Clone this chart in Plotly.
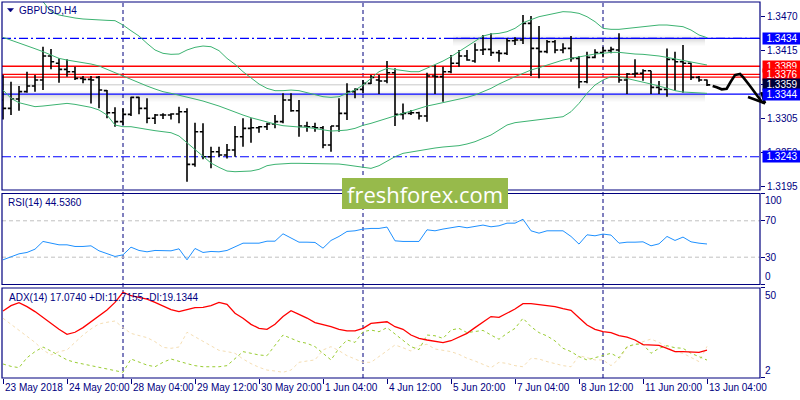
import plotly.graph_objects as go

# ---------------- data ----------------
symbol_title = "GBPUSD,H4"
rsi_title = "RSI(14) 44.5360"
adx_title = "ADX(14) 17.0740 +DI:11.7155 -DI:19.1344"

time_labels = ["23 May 2018", "24 May 20:00", "28 May 04:00", "29 May 12:00",
               "30 May 20:00", "1 Jun 04:00", "4 Jun 12:00", "5 Jun 20:00",
               "7 Jun 04:00", "8 Jun 12:00", "11 Jun 20:00", "13 Jun 04:00"]
label_bars = [0, 8, 16, 24, 32, 40, 48, 56, 64, 72, 80, 88]
week_start_bars = [15, 45, 75]

open_ = [1.33345, 1.33211, 1.33361, 1.33480, 1.33571, 1.33668, 1.34055, 1.33937, 1.33840, 1.33802,
         1.33695, 1.33678, 1.33711, 1.33496, 1.33141, 1.32996, 1.33114, 1.33388, 1.33211, 1.33050,
         1.33103, 1.33103, 1.33119, 1.33157, 1.32308, 1.32834, 1.32431, 1.32512, 1.32458, 1.32539,
         1.32754, 1.32888, 1.32899, 1.32915, 1.32958, 1.32996, 1.33345, 1.33173, 1.32926, 1.32915,
         1.32899, 1.32619, 1.32926, 1.33130, 1.33480, 1.33517, 1.33614, 1.33668, 1.33652, 1.33786,
         1.33114, 1.33130, 1.33141, 1.33087, 1.33732, 1.33722, 1.33802, 1.33937, 1.34055, 1.33974,
         1.34152, 1.34162, 1.34109, 1.34098, 1.34302, 1.34313, 1.34582, 1.34178, 1.34125, 1.34286,
         1.34152, 1.34178, 1.34017, 1.33641, 1.34033, 1.34109, 1.34141, 1.34152, 1.33668, 1.33765,
         1.33775, 1.33818, 1.33549, 1.33517, 1.34001, 1.33963, 1.33937, 1.33711, 1.33668]
high = [1.33748, 1.33641, 1.33571, 1.33802, 1.33748, 1.34205, 1.34168, 1.34017, 1.34001, 1.33883,
        1.33732, 1.33732, 1.33732, 1.33506, 1.33227, 1.33211, 1.33399, 1.33399, 1.33372, 1.33119,
        1.33130, 1.33130, 1.33238, 1.33211, 1.32980, 1.32969, 1.32593, 1.32593, 1.32636, 1.32926,
        1.33050, 1.33050, 1.32926, 1.32980, 1.33103, 1.33453, 1.33453, 1.33345, 1.32996, 1.32980,
        1.32926, 1.32926, 1.33372, 1.33614, 1.33533, 1.33668, 1.33748, 1.33748, 1.33974, 1.33856,
        1.33291, 1.33184, 1.33157, 1.33786, 1.33910, 1.33883, 1.34071, 1.34152, 1.34152, 1.34259,
        1.34394, 1.34420, 1.34152, 1.34340, 1.34356, 1.34716, 1.34700, 1.34539, 1.34313, 1.34313,
        1.34259, 1.34377, 1.34055, 1.34125, 1.34162, 1.34205, 1.34205, 1.34420, 1.33780, 1.34001,
        1.33840, 1.33818, 1.33652, 1.34178, 1.34125, 1.34232, 1.33947, 1.33732, 1.33678]
low = [1.33033, 1.33103, 1.33173, 1.33463, 1.33480, 1.33506, 1.33840, 1.33625, 1.33722, 1.33668,
       1.33614, 1.33291, 1.33211, 1.33050, 1.32915, 1.32942, 1.33087, 1.33114, 1.32969, 1.32958,
       1.33039, 1.33033, 1.32969, 1.32028, 1.32270, 1.32388, 1.32243, 1.32431, 1.32404, 1.32431,
       1.32593, 1.32657, 1.32818, 1.32861, 1.32888, 1.32969, 1.33157, 1.32754, 1.32834, 1.32834,
       1.32566, 1.32512, 1.32834, 1.33023, 1.33372, 1.33453, 1.33603, 1.33442, 1.33614, 1.32926,
       1.33033, 1.33103, 1.33033, 1.32996, 1.33442, 1.33318, 1.33775, 1.33883, 1.33980, 1.33947,
       1.34071, 1.34055, 1.33963, 1.34071, 1.34232, 1.34248, 1.33732, 1.33695, 1.34098, 1.34098,
       1.34098, 1.33963, 1.33533, 1.33614, 1.34017, 1.34033, 1.34098, 1.33625, 1.33442, 1.33711,
       1.33657, 1.33442, 1.33442, 1.33399, 1.33496, 1.33463, 1.33668, 1.33641, 1.33571]
close = [1.33211, 1.33361, 1.33480, 1.33571, 1.33668, 1.34055, 1.33963, 1.33840, 1.33802, 1.33695,
         1.33678, 1.33668, 1.33506, 1.33141, 1.32996, 1.33114, 1.33388, 1.33211, 1.33050, 1.33103,
         1.33103, 1.33119, 1.33157, 1.32308, 1.32834, 1.32431, 1.32512, 1.32458, 1.32539, 1.32754,
         1.32888, 1.32899, 1.32915, 1.32958, 1.32996, 1.33345, 1.33173, 1.32926, 1.32915, 1.32899,
         1.32619, 1.32926, 1.33130, 1.33480, 1.33517, 1.33614, 1.33711, 1.33652, 1.33786, 1.33114,
         1.33130, 1.33141, 1.33087, 1.33732, 1.33722, 1.33802, 1.33937, 1.34055, 1.33990, 1.34152,
         1.34162, 1.34109, 1.34098, 1.34302, 1.34313, 1.34582, 1.34178, 1.34125, 1.34286, 1.34152,
         1.34178, 1.34017, 1.33641, 1.34033, 1.34109, 1.34141, 1.34162, 1.33668, 1.33765, 1.33775,
         1.33818, 1.33549, 1.33517, 1.34001, 1.33963, 1.33937, 1.33711, 1.33668, 1.33590]

bb_upper = [1.35334, 1.35281, 1.35227, 1.35146, 1.35066, 1.34931, 1.34770, 1.34716, 1.34689, 1.34668,
            1.34652, 1.34641, 1.34635, 1.34630, 1.34625, 1.34555, 1.34463, 1.34377, 1.34259, 1.34152,
            1.34098, 1.34082, 1.34087, 1.34152, 1.34195, 1.34216, 1.34205, 1.34141, 1.34017, 1.33920,
            1.33802, 1.33695, 1.33603, 1.33533, 1.33496, 1.33496, 1.33506, 1.33496, 1.33463, 1.33426,
            1.33399, 1.33388, 1.33399, 1.33453, 1.33506, 1.33587, 1.33695, 1.33802, 1.33856, 1.33840,
            1.33818, 1.33802, 1.33802, 1.33856, 1.33910, 1.33974, 1.34044, 1.34125, 1.34205, 1.34286,
            1.34377, 1.34410, 1.34420, 1.34447, 1.34501, 1.34592, 1.34646, 1.34689, 1.34716, 1.34743,
            1.34770, 1.34764, 1.34743, 1.34689, 1.34609, 1.34501, 1.34485, 1.34485, 1.34501, 1.34517,
            1.34528, 1.34544, 1.34555, 1.34555, 1.34544, 1.34528, 1.34474, 1.34394, 1.34351]
bb_middle = [1.34356, 1.34313, 1.34270, 1.34216, 1.34173, 1.34125, 1.34071, 1.34017, 1.33990, 1.33963,
             1.33947, 1.33926, 1.33894, 1.33840, 1.33786, 1.33722, 1.33668, 1.33614, 1.33571, 1.33523,
             1.33480, 1.33453, 1.33426, 1.33399, 1.33361, 1.33329, 1.33291, 1.33248, 1.33200, 1.33146,
             1.33103, 1.33060, 1.33023, 1.32990, 1.32958, 1.32931, 1.32915, 1.32910, 1.32904, 1.32883,
             1.32861, 1.32845, 1.32851, 1.32861, 1.32888, 1.32937, 1.32969, 1.33012, 1.33050, 1.33093,
             1.33130, 1.33168, 1.33211, 1.33248, 1.33275, 1.33302, 1.33334, 1.33356, 1.33388, 1.33426,
             1.33480, 1.33533, 1.33603, 1.33668, 1.33722, 1.33775, 1.33829, 1.33867, 1.33910, 1.33947,
             1.33990, 1.34017, 1.34044, 1.34071, 1.34087, 1.34098, 1.34114, 1.34114, 1.34098, 1.34087,
             1.34082, 1.34071, 1.34055, 1.34033, 1.34006, 1.33980, 1.33953, 1.33926, 1.33910]
bb_lower = [1.33506, 1.33372, 1.33302, 1.33265, 1.33238, 1.33248, 1.33265, 1.33281, 1.33291, 1.33275,
            1.33254, 1.33227, 1.33184, 1.33103, 1.32942, 1.32915, 1.32915, 1.32899, 1.32872, 1.32851,
            1.32834, 1.32818, 1.32765, 1.32657, 1.32539, 1.32431, 1.32329, 1.32259, 1.32200, 1.32189,
            1.32189, 1.32200, 1.32227, 1.32286, 1.32308, 1.32318, 1.32324, 1.32324, 1.32324, 1.32324,
            1.32318, 1.32313, 1.32313, 1.32297, 1.32281, 1.32254, 1.32243, 1.32286, 1.32361, 1.32431,
            1.32485, 1.32507, 1.32539, 1.32555, 1.32571, 1.32587, 1.32598, 1.32609, 1.32636, 1.32673,
            1.32727, 1.32781, 1.32861, 1.32942, 1.32980, 1.32996, 1.33012, 1.33033, 1.33050, 1.33066,
            1.33076, 1.33157, 1.33291, 1.33453, 1.33587, 1.33668, 1.33722, 1.33722, 1.33695, 1.33668,
            1.33636, 1.33603, 1.33571, 1.33533, 1.33496, 1.33474, 1.33463, 1.33453, 1.33453]

rsi = [27.1, 30.8, 33.7, 35.2, 38.8, 47.3, 45.4, 43.6, 43.6, 41.8,
       41.8, 42.5, 37.0, 33.7, 30.8, 32.6, 41.0, 37.4, 35.9, 37.4,
       37.0, 37.0, 39.2, 27.1, 39.6, 35.2, 36.3, 35.9, 37.4, 41.8,
       45.4, 45.4, 45.4, 47.6, 47.6, 55.7, 51.0, 46.5, 46.5, 46.2,
       39.9, 48.4, 52.8, 58.3, 59.0, 60.9, 61.6, 61.6, 63.1, 48.0,
       47.3, 46.9, 47.3, 60.1, 59.0, 60.9, 62.7, 63.8, 62.3, 63.8,
       65.3, 63.4, 64.5, 67.4, 67.4, 71.7, 59.0, 56.4, 59.0, 59.0,
       59.0, 52.8, 44.4, 54.6, 53.5, 55.4, 54.3, 45.4, 46.5, 46.5,
       46.9, 42.5, 44.7, 52.8, 48.4, 52.1, 46.9, 45.4, 44.5]

adx = [38.3, 41.2, 42.8, 40.7, 38.0, 34.7, 31.5, 28.4, 25.7, 26.8,
       29.3, 32.5, 35.4, 38.9, 43.0, 48.5, 46.6, 45.6, 44.7, 43.0,
       41.0, 39.1, 38.0, 38.9, 40.1, 40.3, 41.2, 43.0, 41.9, 37.1,
       34.4, 31.1, 28.9, 28.4, 31.1, 35.3, 38.5, 36.5, 34.5, 32.0,
       31.1, 29.8, 28.4, 27.5, 27.5, 28.9, 31.6, 32.2, 32.5, 29.8,
       28.4, 25.3, 23.5, 22.6, 21.7, 21.2, 22.2, 24.4, 26.2, 29.3,
       32.2, 35.3, 34.9, 37.1, 39.4, 42.3, 42.3, 41.8, 41.4, 40.7,
       39.6, 38.7, 34.7, 30.7, 28.4, 27.1, 26.6, 25.0, 24.1, 22.6,
       20.1, 19.9, 19.7, 18.1, 16.3, 16.3, 16.1, 15.9, 17.07]
plus_di = [9.6, 8.3, 7.6, 13.0, 16.3, 18.8, 16.6, 14.1, 11.8, 10.5,
           9.6, 8.7, 7.6, 6.5, 5.8, 5.1, 12.3, 10.5, 9.0, 8.1,
           10.5, 12.3, 10.9, 9.8, 8.7, 8.1, 8.1, 8.1, 8.7, 12.3,
           16.3, 15.4, 14.5, 14.1, 19.9, 25.3, 23.5, 21.7, 20.8, 19.0,
           15.4, 11.8, 18.1, 22.6, 21.3, 27.1, 28.0, 27.1, 29.3, 25.7,
           22.6, 19.0, 17.4, 25.3, 24.9, 23.5, 28.0, 28.9, 26.6, 27.1,
           27.8, 25.3, 23.0, 26.2, 28.9, 34.4, 29.8, 26.6, 24.8, 22.1,
           18.1, 16.3, 13.6, 11.8, 13.0, 14.5, 15.4, 13.0, 19.0, 20.3,
           20.3, 15.4, 18.1, 19.5, 18.4, 18.1, 15.4, 13.6, 11.72]
minus_di = [34.4, 31.1, 27.7, 24.4, 21.3, 17.2, 14.5, 16.3, 17.2, 21.3,
            25.3, 28.6, 31.3, 32.2, 32.9, 29.3, 26.2, 25.0, 23.9, 21.7,
            18.6, 18.1, 18.8, 26.8, 24.4, 22.1, 19.3, 17.0, 16.3, 15.4,
            12.3, 9.8, 7.8, 6.3, 5.8, 5.1, 6.3, 10.5, 11.2, 11.8,
            17.2, 19.0, 16.8, 14.1, 12.3, 10.5, 10.5, 13.6, 16.6, 19.9,
            18.4, 16.6, 19.5, 20.3, 17.7, 17.0, 16.3, 14.8, 12.7, 11.2,
            9.4, 7.6, 10.5, 9.9, 8.7, 8.1, 12.7, 12.3, 10.9, 9.6,
            8.7, 8.1, 14.1, 13.0, 11.8, 11.8, 8.7, 12.3, 18.4, 20.3,
            21.7, 23.1, 21.3, 19.0, 16.3, 15.4, 13.0, 10.9, 19.13]

price_ticks = [1.3470, 1.3415, 1.3360, 1.3305, 1.3250, 1.3195]
resistance_levels = [1.3389, 1.3376, 1.33715]
support_level = 1.3344
dashdot_levels = [1.3434, 1.3243]
bid_price = 1.3359
trend_start_bar = 56.25
shadow_end_bar = 87.75
level_tags = [("1.3434", 1.3434, "#0000FF"), ("1.3389", 1.3389, "#FF0000"),
              ("1.3376", 1.3376, "#FF0000"), ("1.3359", 1.3359, "#00003A"),
              ("1.3344", 1.3344, "#0000FF"), ("1.3243", 1.3243, "#0000FF")]
rsi_levels = [70, 30]
rsi_scale_labels = ["100", "70", "30", "0"]
adx_scale_labels = ["50", "2"]
# hand-drawn forecast arrow (bar index, price)
forecast_path = [(88.71, 1.33571), (89.21, 1.33550), (89.84, 1.33518), (90.46, 1.33527),
                 (90.96, 1.33640), (91.5, 1.33748), (92.13, 1.33765), (92.54, 1.33711),
                 (93.38, 1.33571), (94.21, 1.33426), (94.84, 1.33318), (95.25, 1.33292)]
forecast_barbs = [[(93.13, 1.33394), (95.25, 1.33292)], [(94.8, 1.33474), (95.25, 1.33292)]]
watermark = "freshforex.com"

# ---------------- layout constants ----------------
FONT = "Liberation Sans Narrow, Arial Narrow, Liberation Sans, Arial, sans-serif"
FS = 10
NAVY = "#00007F"
W, H = 800, 400
ML, MR, MT, MB = 2, 40, 2, 22
PW, PH = W - ML - MR, H - MT - MB
X_RANGE = [-0.125, 94.625]
Y_MAIN = [1.31894, 1.34926]
D_MAIN = [0.5, 1.0]
D_RSI = [0.2487, 0.4907]
D_ADX = [0.0, 0.2394]
ADX_RANGE = [2, 50.8]

bars = list(range(len(close)))


def pxx(px):
    return (px - ML) / PW


def pxy(py):
    return (MT + PH - py) / PH


def to_paper(i, p):
    xp = (i - X_RANGE[0]) / (X_RANGE[1] - X_RANGE[0])
    yp = D_MAIN[0] + (p - Y_MAIN[0]) / (Y_MAIN[1] - Y_MAIN[0]) * (D_MAIN[1] - D_MAIN[0])
    return xp, yp


def path_of(points):
    pts = [to_paper(i, p) for i, p in points]
    return "M " + " L ".join(f"{x:.5f},{y:.5f}" for x, y in pts)


fig = go.Figure()

fig.add_trace(go.Ohlc(x=bars, open=open_, high=high, low=low, close=close,
                      increasing=dict(line=dict(color="black", width=1.6)),
                      decreasing=dict(line=dict(color="black", width=1.6)),
                      tickwidth=0.4, xaxis="x", yaxis="y", hoverinfo="skip"))
for band in (bb_upper, bb_middle, bb_lower):
    fig.add_trace(go.Scatter(x=bars, y=band, mode="lines", xaxis="x", yaxis="y",
                             line=dict(color="#3CB371", width=1), hoverinfo="skip"))

fig.add_trace(go.Scatter(x=bars, y=rsi, mode="lines", xaxis="x", yaxis="y2",
                         line=dict(color="#1E90FF", width=1), hoverinfo="skip"))

fig.add_trace(go.Scatter(x=bars, y=minus_di, mode="lines", xaxis="x", yaxis="y3",
                         line=dict(color="#F5DEB3", width=1, dash="3px,3px"), hoverinfo="skip"))
fig.add_trace(go.Scatter(x=bars, y=plus_di, mode="lines", xaxis="x", yaxis="y3",
                         line=dict(color="#9ACD32", width=1, dash="3px,3px"), hoverinfo="skip"))
fig.add_trace(go.Scatter(x=bars, y=adx, mode="lines", xaxis="x", yaxis="y3",
                         line=dict(color="#FF0000", width=1.3), hoverinfo="skip"))

shapes = []
px_price = (Y_MAIN[1] - Y_MAIN[0]) / (PH * (D_MAIN[1] - D_MAIN[0]))


def shadow(level, x0, x1):
    below = [0.14, 0.11, 0.085, 0.065, 0.045, 0.03, 0.015]
    above = [0.07, 0.035, 0.015]
    for k, a in enumerate(below):
        shapes.append(dict(type="rect", xref="x", yref="y", x0=x0, x1=x1,
                           y0=level - (k + 1.5) * px_price, y1=level - (k + 0.5) * px_price,
                           fillcolor=f"rgba(0,0,0,{a})", line=dict(width=0), layer="below"))
    for k, a in enumerate(above):
        shapes.append(dict(type="rect", xref="x", yref="y", x0=x0, x1=x1,
                           y0=level + (k + 0.5) * px_price, y1=level + (k + 1.5) * px_price,
                           fillcolor=f"rgba(0,0,0,{a})", line=dict(width=0), layer="below"))


shadow(support_level, X_RANGE[0], shadow_end_bar)
shadow(dashdot_levels[0], trend_start_bar, shadow_end_bar)


def hline(level, color, width=1, dash="solid", x0=None, x1=None):
    shapes.append(dict(type="line", xref="x", yref="y",
                       x0=X_RANGE[0] if x0 is None else x0, x1=X_RANGE[1] if x1 is None else x1,
                       y0=level, y1=level, line=dict(color=color, width=width, dash=dash),
                       layer="below"))


hline(bid_price, "#C8C8C8", 1)
for lv in dashdot_levels:
    hline(lv, "#0000FF", 1.2, "9px,3px,2px,3px")
hline(dashdot_levels[0], "#0000FF", 1.4, x0=trend_start_bar)
hline(support_level, "#0000FF", 1.4)
for lv in resistance_levels:
    hline(lv, "#FF0000", 1.3)

for lv in rsi_levels:
    shapes.append(dict(type="line", xref="x", yref="y2", x0=X_RANGE[0], x1=X_RANGE[1],
                       y0=lv, y1=lv, line=dict(color="#C0C0C0", width=1, dash="4px,3px"),
                       layer="below"))

for b in week_start_bars:
    shapes.append(dict(type="line", xref="x", yref="paper", x0=b, x1=b, y0=0, y1=1,
                       line=dict(color=NAVY, width=1, dash="4px,3px"), layer="below"))

for d in (D_MAIN, D_RSI, D_ADX):
    shapes.append(dict(type="rect", xref="paper", yref="paper", x0=0, x1=1, y0=d[0], y1=d[1],
                       line=dict(color=NAVY, width=1.2), fillcolor="rgba(0,0,0,0)", layer="above"))

# forecast arrow
shapes.append(dict(type="path", xref="paper", yref="paper", path=path_of(forecast_path),
                   line=dict(color="black", width=2.6), layer="above"))
for barb in forecast_barbs:
    shapes.append(dict(type="path", xref="paper", yref="paper", path=path_of(barb),
                       line=dict(color="black", width=2.6), layer="above"))

# watermark box
shapes.append(dict(type="rect", xref="paper", yref="paper", x0=pxx(342), x1=pxx(508),
                   y0=pxy(209), y1=pxy(178), fillcolor="#97BA4B", line=dict(width=0),
                   layer="above"))

# title triangle
shapes.append(dict(type="path", xref="paper", yref="paper",
                   path=f"M {pxx(7.5)},{pxy(8.5)} L {pxx(13.5)},{pxy(8.5)} L {pxx(10.5)},{pxy(12)} Z",
                   fillcolor=NAVY, line=dict(color=NAVY, width=0.5), layer="above"))

ann = []
ann.append(dict(xref="paper", yref="paper", x=pxx(17), y=pxy(10), text=symbol_title,
                xanchor="left", yanchor="middle", showarrow=False,
                font=dict(family=FONT, size=FS, color=NAVY)))
ann.append(dict(xref="paper", yref="paper", x=pxx(6), y=pxy(202), text=rsi_title,
                xanchor="left", yanchor="middle", showarrow=False,
                font=dict(family=FONT, size=FS, color=NAVY)))
ann.append(dict(xref="paper", yref="paper", x=pxx(7), y=pxy(297), text=adx_title,
                xanchor="left", yanchor="middle", showarrow=False,
                font=dict(family=FONT, size=FS, color=NAVY)))

# price tags
for txt, lv, col in level_tags:
    ann.append(dict(xref="paper", yref="y", x=1, y=lv, xanchor="left", yanchor="middle",
                    xshift=2, text=txt, showarrow=False, bgcolor=col, width=38, height=11,
                    borderpad=0, align="center",
                    font=dict(family=FONT, size=FS, color="white")))

# RSI scale labels
rsi_pos = [(100, "top"), (70, "middle"), (30, "middle"), (0, "bottom")]
for lab, (v, anc) in zip(rsi_scale_labels, rsi_pos):
    ann.append(dict(xref="paper", yref="y2", x=1, y=v, xanchor="left", yanchor=anc, xshift=3,
                    text=lab, showarrow=False, font=dict(family=FONT, size=FS, color=NAVY)))
# ADX scale labels
adx_pos = [(ADX_RANGE[1], "top"), (ADX_RANGE[0], "bottom")]
for lab, (v, anc) in zip(adx_scale_labels, adx_pos):
    ann.append(dict(xref="paper", yref="y3", x=1, y=v, xanchor="left", yanchor=anc, xshift=3,
                    text=lab, showarrow=False, font=dict(family=FONT, size=FS, color=NAVY)))

# time labels (left aligned after tick)
for b, lab in zip(label_bars, time_labels):
    ann.append(dict(xref="x", yref="paper", x=b, y=0, xanchor="left", yanchor="top",
                    xshift=0, yshift=-2, text=lab, showarrow=False,
                    font=dict(family=FONT, size=FS, color=NAVY)))

# watermark text
ann.append(dict(xref="paper", yref="paper", x=pxx(425), y=pxy(193.5), text=watermark,
                xanchor="center", yanchor="middle", showarrow=False,
                font=dict(family="Open Sans, Noto Sans, sans-serif", size=22, color="white")))

fig.update_layout(
    width=W, height=H,
    margin=dict(l=ML, r=MR, t=MT, b=MB),
    paper_bgcolor="white", plot_bgcolor="white",
    showlegend=False,
    shapes=shapes, annotations=ann,
    xaxis=dict(domain=[0, 1], range=X_RANGE, anchor="y3", tickvals=label_bars,
               showticklabels=False, ticks="outside", ticklen=5, tickcolor=NAVY,
               showgrid=False, zeroline=False, showline=False,
               rangeslider=dict(visible=False), fixedrange=True),
    yaxis=dict(domain=D_MAIN, range=Y_MAIN, anchor="x", side="right",
               tickvals=price_ticks, ticktext=[f"{t:.4f}" for t in price_ticks],
               ticks="outside", ticklen=4, tickcolor=NAVY,
               tickfont=dict(family=FONT, size=FS, color=NAVY),
               showgrid=False, zeroline=False, showline=False, fixedrange=True),
    yaxis2=dict(domain=D_RSI, range=[0, 100], anchor="x", side="right",
                tickvals=[100, 70, 30, 0], showticklabels=False, ticks="outside", ticklen=4,
                tickcolor=NAVY, showgrid=False, zeroline=False, showline=False, fixedrange=True),
    yaxis3=dict(domain=D_ADX, range=ADX_RANGE, anchor="x", side="right",
                tickvals=list(ADX_RANGE), showticklabels=False, ticks="outside", ticklen=4,
                tickcolor=NAVY, showgrid=False, zeroline=False, showline=False, fixedrange=True),
)

fig.write_html("out.html", config={"displayModeBar": False},
               post_script="document.body.style.margin='0';document.body.style.padding='0';"
                           "document.body.style.overflow='hidden';")
